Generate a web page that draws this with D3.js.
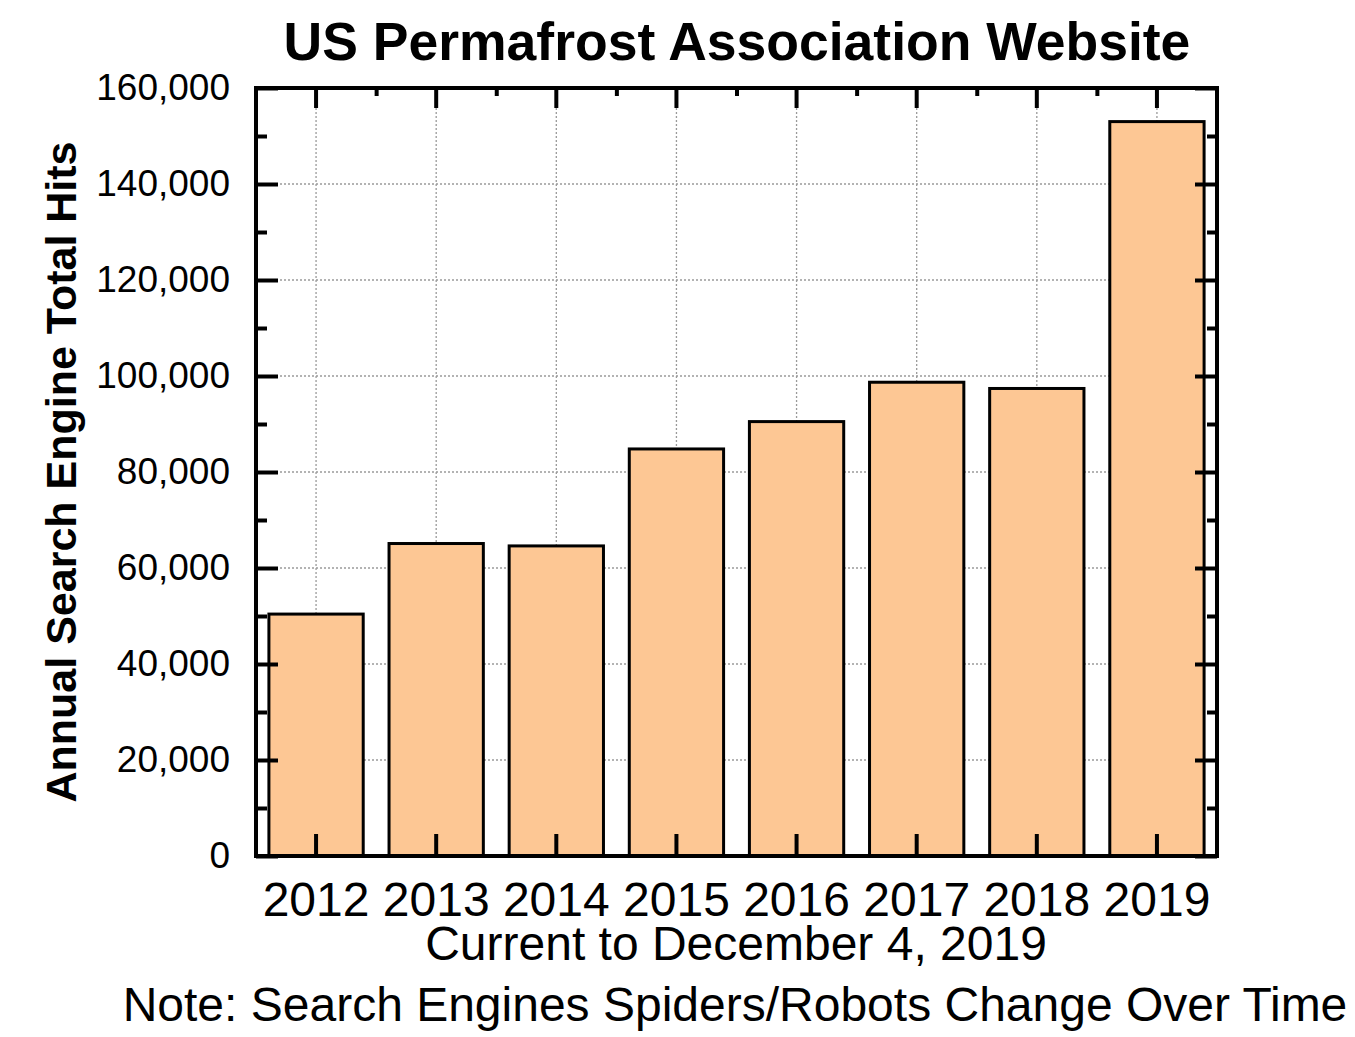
<!DOCTYPE html>
<html>
<head>
<meta charset="utf-8">
<script src="https://cdn.jsdelivr.net/npm/d3@7"></script>
<style>
  body { margin: 0; background: #fff; }
  text { font-family: "Liberation Sans", Arial, sans-serif; fill: #000; }
</style>
</head>
<body>
<div id="chart"></div>
<script>
// data
const years = ['2012', '2013', '2014', '2015', '2016', '2017', '2018', '2019'];
const hits = [50400, 65100, 64600, 84800, 90500, 98700, 97400, 153000];
const yMajorTicks = [0, 20000, 40000, 60000, 80000, 100000, 120000, 140000, 160000];
const yMinorTicks = [10000, 30000, 50000, 70000, 90000, 110000, 130000, 150000];

const titleText = 'US Permafrost Association Website';
const yLabelText = 'Annual Search Engine Total Hits';
const subText = 'Current to December 4, 2019';
const noteText = 'Note: Search Engines Spiders/Robots Change Over Time';

const W = 1355, H = 1037;
const margin = {top: 88, right: 138, bottom: 181, left: 256};
const width = W - margin.left - margin.right,
    height = H - margin.top - margin.bottom;

const svg = d3.select('#chart')
  .append('svg')
    .attr('width', W)
    .attr('height', H);

const g = svg.append('g')
    .attr('transform', `translate(${margin.left}, ${margin.top})`);

const pad = 0.215;
const x = d3.scaleBand()
    .domain(years)
    .range([0, width])
    .paddingInner(pad)
    .paddingOuter(pad / 2);

const y = d3.scaleLinear()
    .domain([0, 160000])
    .range([height, 0]);

// dotted grid
g.append('g')
  .selectAll('line.vgrid')
  .data(years)
  .join('line')
    .attr('x1', d => x(d) + x.bandwidth() / 2)
    .attr('x2', d => x(d) + x.bandwidth() / 2)
    .attr('y1', 0)
    .attr('y2', height)
    .style('stroke', '#9a9a9a')
    .style('stroke-width', 1.3)
    .style('stroke-dasharray', '2,2');

g.append('g')
  .selectAll('line.hgrid')
  .data(yMajorTicks.slice(1, -1))
  .join('line')
    .attr('x1', 0)
    .attr('x2', width)
    .attr('y1', d => y(d))
    .attr('y2', d => y(d))
    .style('stroke', '#9a9a9a')
    .style('stroke-width', 1.3)
    .style('stroke-dasharray', '2,2');

// bars
g.append('g')
  .selectAll('rect')
  .data(years)
  .join('rect')
    .attr('x', d => x(d))
    .attr('y', (d, i) => y(hits[i]))
    .attr('width', x.bandwidth())
    .attr('height', (d, i) => height - y(hits[i]))
    .style('fill', '#fdc794')
    .style('stroke', '#000')
    .style('stroke-width', 3);

// axes, ticks point inward
const fmt = d3.format(',');

const yLeft = g.append('g')
    .call(d3.axisLeft(y).tickValues(yMajorTicks).tickSize(-22).tickPadding(26).tickFormat(fmt));
g.append('g')
    .call(d3.axisLeft(y).tickValues(yMinorTicks).tickSize(-11).tickFormat(''));
g.append('g')
    .attr('transform', `translate(${width}, 0)`)
    .call(d3.axisRight(y).tickValues(yMajorTicks).tickSize(-22).tickFormat(''));
g.append('g')
    .attr('transform', `translate(${width}, 0)`)
    .call(d3.axisRight(y).tickValues(yMinorTicks).tickSize(-10).tickFormat(''));

const xBottom = g.append('g')
    .attr('transform', `translate(0, ${height})`)
    .call(d3.axisBottom(x).tickSize(-22).tickPadding(26));
g.append('g')
    .call(d3.axisTop(x).tickSize(-20).tickFormat(''));

// minor top ticks at the band boundaries
const xb = d3.scaleLinear().domain([0, years.length]).range([0, width]);
g.append('g')
    .call(d3.axisTop(xb).tickValues(d3.range(1, years.length)).tickSize(-8).tickFormat(''));

g.selectAll('.domain').remove();
g.selectAll('.tick line')
    .style('stroke', '#000')
    .style('stroke-width', 4);

yLeft.selectAll('text')
    .style('font-size', '37px');
xBottom.selectAll('text')
    .style('font-size', '48px');

// frame
g.append('rect')
    .attr('width', width)
    .attr('height', height)
    .style('fill', 'none')
    .style('stroke', '#000')
    .style('stroke-width', 4);

// texts
svg.append('text')
    .attr('x', 737)
    .attr('y', 60)
    .attr('text-anchor', 'middle')
    .style('font-size', '53.5px')
    .style('font-weight', 'bold')
    .text(titleText);

svg.append('text')
    .attr('transform', `translate(76, ${margin.top + height / 2}) rotate(-90)`)
    .attr('text-anchor', 'middle')
    .style('font-size', '43px')
    .style('font-weight', 'bold')
    .text(yLabelText);

svg.append('text')
    .attr('x', 736)
    .attr('y', 960)
    .attr('text-anchor', 'middle')
    .style('font-size', '48px')
    .text(subText);

svg.append('text')
    .attr('x', 735)
    .attr('y', 1021)
    .attr('text-anchor', 'middle')
    .style('font-size', '48px')
    .text(noteText);
</script>
</body>
</html>
